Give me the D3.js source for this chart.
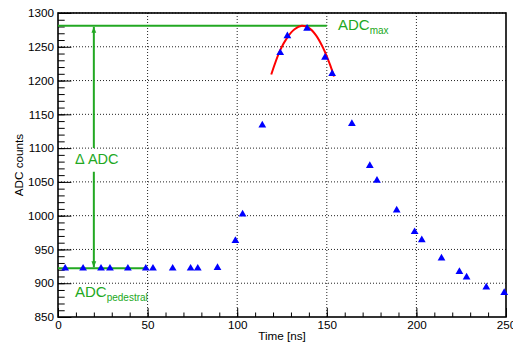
<!DOCTYPE html>
<html>
<head>
<meta charset="utf-8">
<script src="https://cdn.jsdelivr.net/npm/d3@7"></script>
<style>
  body { margin: 0; background: #fff; }
  svg { display: block; font-family: "Liberation Sans", Arial, sans-serif; }
  .grid line { stroke: #222; stroke-dasharray: 1,2; }
</style>
</head>
<body>
<div id="chart"></div>
<script>
// sample times [ns] and ADC readings
const times = [4, 14, 24, 29, 39, 49, 53, 64, 74, 78, 89, 99, 103, 114, 124, 128, 139, 149, 153, 164, 174, 178, 189, 199, 203, 214, 224, 228, 239, 249];
const adc = [922, 922, 922, 922, 922, 922, 922, 922, 922, 922, 923, 963, 1002, 1134, 1241, 1266, 1277, 1234, 1210, 1136, 1074, 1052, 1008, 976, 964, 937, 917, 909, 894, 886];

// red fit curve
const fitT = [119, 124, 128, 132, 136, 140, 144, 148, 152, 154];
const fitV = [1209, 1245, 1264, 1276, 1281, 1278, 1267, 1248, 1222, 1206];

// annotation levels
const adcMax = 1281, adcPed = 922;
const maxLineEnd = 150, pedLineEnd = 50, arrowT = 20;
const arrowGapTop = 1100, arrowGapBottom = 1065;

const xTicks = [0, 50, 100, 150, 200, 250];
const yTicks = [850, 900, 950, 1000, 1050, 1100, 1150, 1200, 1250, 1300];

const W = 513, H = 343;
const margin = {left: 58, right: 7, top: 13, bottom: 26};
const width = W - margin.left - margin.right;
const height = H - margin.top - margin.bottom;
const green = "#22a822";

const svg = d3.select("#chart").append("svg")
    .attr("width", W).attr("height", H);
const g = svg.append("g")
    .attr("transform", `translate(${margin.left},${margin.top})`);

const x = d3.scaleLinear().domain([0, 250]).range([0, width]);
const y = d3.scaleLinear().domain([850, 1300]).range([height, 0]);

// grid
g.append("g").attr("class", "grid")
    .selectAll("line").data(xTicks.slice(1, -1)).join("line")
    .attr("x1", d => x(d)).attr("x2", d => x(d))
    .attr("y1", 0).attr("y2", height);
g.append("g").attr("class", "grid")
    .selectAll("line").data(yTicks.slice(1)).join("line")
    .attr("y1", d => y(d)).attr("y2", d => y(d))
    .attr("x1", 0).attr("x2", width);

// minor ticks
g.append("g")
    .attr("transform", `translate(0,${height})`)
    .call(d3.axisBottom(x).tickValues(d3.range(0, 251, 10)).tickSize(-4.5).tickFormat(""))
    .call(a => a.select(".domain").remove());
g.append("g")
    .call(d3.axisLeft(y).tickValues(d3.range(850, 1301, 10)).tickSize(-6.7).tickFormat(""))
    .call(a => a.select(".domain").remove());

// major ticks + labels
const xAxis = g.append("g")
    .attr("transform", `translate(0,${height})`)
    .call(d3.axisBottom(x).tickValues(xTicks).tickSize(-9).tickPadding(4).tickFormat(d3.format("d")));
const yAxis = g.append("g")
    .call(d3.axisLeft(y).tickValues(yTicks).tickSize(-13.4).tickPadding(4).tickFormat(d3.format("d")));
[xAxis, yAxis].forEach(a => {
    a.selectAll("text").attr("font-size", 11.7).attr("fill", "#000")
        .attr("font-family", "Liberation Sans, Arial, sans-serif");
    a.selectAll("line").attr("stroke", "#000");
    a.select(".domain").remove();
});

// frame
g.append("rect")
    .attr("width", width).attr("height", height)
    .attr("fill", "none").attr("stroke", "#000").attr("stroke-width", 1.6);

// axis titles
svg.append("text")
    .attr("x", margin.left + width / 2).attr("y", H - 3)
    .attr("text-anchor", "middle").attr("font-size", 11.7)
    .text("Time [ns]");
svg.append("text")
    .attr("transform", `translate(23,${margin.top + height / 2}) rotate(-90)`)
    .attr("text-anchor", "middle").attr("font-size", 11.7)
    .text("ADC counts");

// green annotations
const defs = svg.append("defs");
defs.append("marker")
    .attr("id", "arr").attr("viewBox", "0 0 10 10")
    .attr("refX", 10).attr("refY", 5)
    .attr("markerWidth", 3).attr("markerHeight", 3)
    .attr("orient", "auto")
  .append("path").attr("d", "M0,1L10,5L0,9Z").attr("fill", green);

g.append("line")
    .attr("x1", x(0)).attr("x2", x(maxLineEnd))
    .attr("y1", y(adcMax)).attr("y2", y(adcMax))
    .attr("stroke", green).attr("stroke-width", 2);
g.append("line")
    .attr("x1", x(0)).attr("x2", x(pedLineEnd))
    .attr("y1", y(adcPed)).attr("y2", y(adcPed))
    .attr("stroke", green).attr("stroke-width", 2);
g.append("line")
    .attr("x1", x(arrowT)).attr("x2", x(arrowT))
    .attr("y1", y(arrowGapTop)).attr("y2", y(adcMax) + 1)
    .attr("stroke", green).attr("stroke-width", 2)
    .attr("marker-end", "url(#arr)");
g.append("line")
    .attr("x1", x(arrowT)).attr("x2", x(arrowT))
    .attr("y1", y(arrowGapBottom)).attr("y2", y(adcPed) - 1)
    .attr("stroke", green).attr("stroke-width", 2)
    .attr("marker-end", "url(#arr)");

svg.append("text")
    .attr("x", 75).attr("y", 164)
    .attr("font-size", 14.5).attr("fill", green)
    .text("\u0394 ADC");

const maxLbl = svg.append("text")
    .attr("x", 338).attr("y", 30)
    .attr("font-size", 15).attr("fill", green);
maxLbl.append("tspan").text("ADC");
maxLbl.append("tspan").attr("font-size", 10).attr("dy", 4).text("max");

const pedLbl = svg.append("text")
    .attr("x", 75).attr("y", 297)
    .attr("font-size", 15).attr("fill", green);
pedLbl.append("tspan").text("ADC");
pedLbl.append("tspan").attr("font-size", 10).attr("dy", 4).text("pedestral");

// fit curve
const fitLine = d3.line()
    .x((d, i) => x(fitT[i]))
    .y(d => y(d))
    .curve(d3.curveCatmullRom);
g.append("path")
    .datum(fitV)
    .attr("d", fitLine)
    .attr("fill", "none").attr("stroke", "#ff0000").attr("stroke-width", 2);

// data points
g.selectAll(".pt").data(times).join("path")
    .attr("class", "pt")
    .attr("transform", (d, i) => `translate(${x(d)},${y(adc[i])})`)
    .attr("d", d3.symbol(d3.symbolTriangle, 26))
    .attr("fill", "#0000ff");
</script>
</body>
</html>
